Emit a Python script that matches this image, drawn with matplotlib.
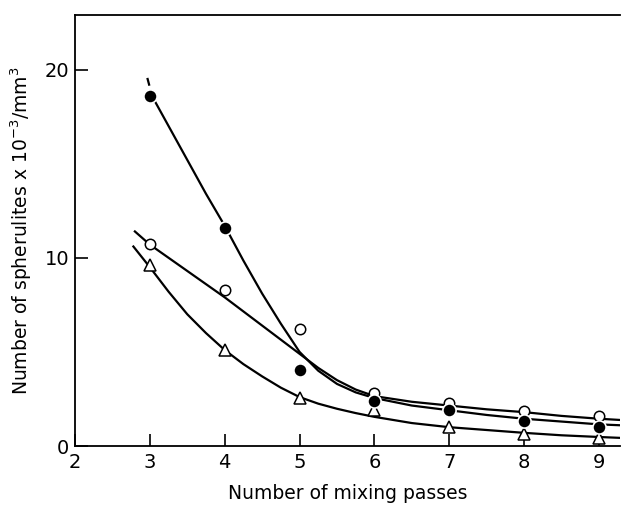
import matplotlib
matplotlib.use("Agg")
import matplotlib.pyplot as plt

# measured points
passes = [3, 4, 5, 6, 7, 8, 9]
filled = [18.6, 11.6, 4.05, 2.4, 1.9, 1.35, 1.0]
opened = [10.75, 8.3, 6.2, 2.8, 2.3, 1.85, 1.6]
triang = [9.6, 5.1, 2.55, 1.9, 1.0, 0.62, 0.42]

# hand-drawn curves
curve_x = [3.0, 3.25, 3.5, 3.75, 4.0, 4.25, 4.5, 4.75, 5.0, 5.25, 5.5, 5.75, 6.0,
           6.5, 7.0, 7.5, 8.0, 8.5, 9.0, 9.3]
filled_curve = [18.8, 17.0, 15.2, 13.4, 11.7, 9.85, 8.1, 6.5, 5.0, 4.0, 3.3, 2.85, 2.55,
                2.15, 1.9, 1.65, 1.45, 1.3, 1.15, 1.1]
open_x = [2.8] + curve_x
open_curve = [11.4, 10.7, 10.0, 9.3, 8.6, 7.9, 7.15, 6.4, 5.65, 4.9, 4.15, 3.5, 3.0, 2.65,
              2.35, 2.15, 1.95, 1.8, 1.6, 1.45, 1.38]
tri_x = [2.78] + curve_x
tri_curve = [10.6, 9.5, 8.2, 7.0, 6.0, 5.1, 4.35, 3.7, 3.1, 2.6, 2.25, 1.98, 1.75, 1.55,
             1.22, 1.0, 0.85, 0.7, 0.57, 0.48, 0.43]

plt.rcParams['font.family'] = ['DejaVu Sans']

fig = plt.figure(figsize=(6.22, 5.05), dpi=100)
ax = fig.add_axes([0.1206, 0.1168, 0.876, 0.8535])

ax.plot(curve_x, filled_curve, color='black', lw=1.6, zorder=2)
ax.plot([2.97, 2.99], [19.5, 19.2], color='black', lw=1.6)
ax.plot(open_x, open_curve, color='black', lw=1.6, zorder=2)
ax.plot(tri_x, tri_curve, color='black', lw=1.6, zorder=2)

ax.plot(passes, opened, 'o', ms=7.5, mfc='white', mec='black', mew=1.1, zorder=3)
ax.plot(passes, filled, 'o', ms=9.5, mfc='black', mec='white', mew=1.2, zorder=4)
ax.plot(passes, triang, '^', ms=8.5, mfc='white', mec='black', mew=1.1, zorder=3)

ax.set_xlim(2, 9.28)
ax.set_ylim(0, 22.9)
ax.set_xticks(range(2, 10))
ax.set_yticks([0, 10, 20])
ax.tick_params(direction='in', length=9, width=1.2, labelsize=14, pad=5)
ax.tick_params(axis='y', pad=4)
for s in ['left', 'bottom', 'top']:
    ax.spines[s].set_linewidth(1.3)
ax.spines['right'].set_visible(False)

ax.set_xlabel('Number of mixing passes', fontsize=13.5, labelpad=9)
ax.set_ylabel(r'Number of spherulites x 10$^{-3}$/mm$^3$', fontsize=13.5, labelpad=8)

fig.savefig('out.png', dpi=100)
